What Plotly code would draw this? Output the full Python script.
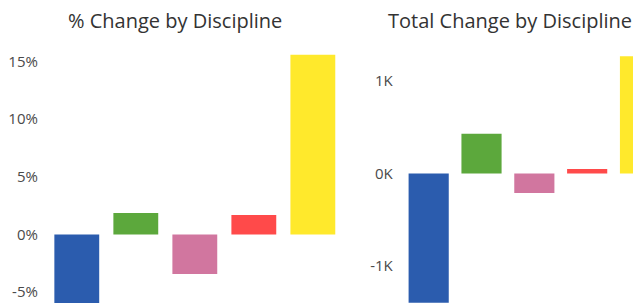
import plotly.graph_objects as go

disciplines = ["Discipline A", "Discipline B", "Discipline C", "Discipline D", "Discipline E"]
pct_change = [-5.95, 1.86, -3.43, 1.69, 15.6]
total_change = [-1400, 430, -210, 50, 1270]
colors = ["#2b5cae", "#5ca83c", "#d1769f", "#ff4a4a", "#ffe92c"]

pct_ticks = [-5, 0, 5, 10, 15]
pct_labels = ["-5%", "0%", "5%", "10%", "15%"]
tot_ticks = [-1000, 0, 1000]
tot_labels = ["-1K", "0K", "1K"]

# page body has an 8px margin; work in screen pixels and convert
OFF = 8
W, H = 641 - OFF, 308 - OFF


def px(xs):
    return (xs - OFF) / W


def py(ys):
    return 1 - (ys - OFF) / H


fig = go.Figure()
fig.add_trace(go.Bar(x=disciplines, y=pct_change, marker=dict(color=colors, line=dict(width=0)),
                     xaxis="x", yaxis="y", showlegend=False))
fig.add_trace(go.Bar(x=disciplines, y=total_change, marker=dict(color=colors, line=dict(width=0)),
                     xaxis="x2", yaxis="y2", showlegend=False))

# left panel geometry (screen pixels)
l0, l1 = 40, 336
lstep = 59.2
lc0 = 75
lr0 = -(lc0 - l0) / lstep
lr1 = lr0 + (l1 - l0) / lstep
# right panel geometry
r0p, r1p = 396, 641
rstep = 53.0
rc0 = 428
rr0 = -(rc0 - r0p) / rstep
rr1 = rr0 + (r1p - r0p) / rstep

# y scales (screen pixels): zero pixel, px per unit
z_left, s_left = 234.5, 11.53
z_right, s_right = 173.5, 0.0923
top_s, bot_s = OFF, 308

font = "Open Sans"
fig.update_layout(
    width=W, height=H,
    margin=dict(l=0, r=0, t=0, b=0),
    paper_bgcolor="white", plot_bgcolor="rgba(0,0,0,0)",
    bargap=0.24,
    font=dict(family=font, size=15, color="#4a4a4a"),
    xaxis=dict(domain=[px(l0), px(l1)], range=[lr0, lr1], showticklabels=False,
               showgrid=False, zeroline=False, showline=False),
    yaxis=dict(domain=[0, 1], range=[-(bot_s - z_left) / s_left, (z_left - top_s) / s_left],
               tickvals=pct_ticks, ticktext=pct_labels, showgrid=False, zeroline=False,
               showline=False, ticks="", ticklabelstandoff=3, anchor="x"),
    xaxis2=dict(domain=[px(r0p), min(1, px(r1p))], range=[rr0, rr1], showticklabels=False,
                showgrid=False, zeroline=False, showline=False),
    yaxis2=dict(domain=[0, 1], range=[-(bot_s - z_right) / s_right, (z_right - top_s) / s_right],
                tickvals=tot_ticks, ticktext=tot_labels, showgrid=False, zeroline=False,
                showline=False, ticks="", ticklabelstandoff=3, anchor="x2"),
    annotations=[
        dict(text="% Change by Discipline", x=px(174), y=py(20), xref="paper", yref="paper",
             showarrow=False, xanchor="center", yanchor="middle",
             font=dict(family=font, size=20, color="#333")),
        dict(text="Total Change by Discipline", x=px(509.5), y=py(20), xref="paper", yref="paper",
             showarrow=False, xanchor="center", yanchor="middle",
             font=dict(family=font, size=20, color="#333")),
    ],
)

fig.write_html("out.html")
